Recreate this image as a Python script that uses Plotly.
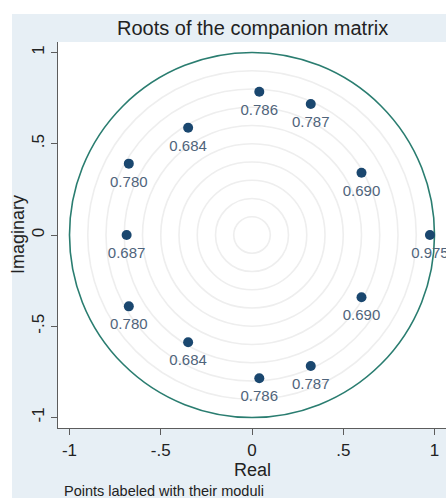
import numpy as np
import plotly.graph_objects as go

# Eigenvalues of the companion matrix (real and imaginary parts)
real_part = [0.040, 0.322, 0.600, 0.975, -0.350, -0.675, -0.687,
             -0.675, -0.350, 0.600, 0.322, 0.040]
imag_part = [0.785, 0.718, 0.341, 0.000, 0.588, 0.391, 0.000,
             -0.391, -0.588, -0.341, -0.718, -0.785]

# Reference circles
grid_radii = [0.1, 0.2, 0.3, 0.4, 0.5, 0.6, 0.7, 0.8, 0.9]
unit_radius = 1.0

# Axis ticks
tick_vals = [-1, -0.5, 0, 0.5, 1]
tick_text = ["-1", "-.5", "0", ".5", "1"]

re = np.array(real_part)
im = np.array(imag_part)
moduli = np.sqrt(re ** 2 + im ** 2)
labels = [f"{m:.3f}" for m in moduli]

W, H = 446, 498
ML, MR, MT, MB = 58, 0, 42, 70
scale = 182.5          # pixels per unit on both axes
cx, cy = 252, 235      # pixel location of the origin
x_range = [(ML - cx) / scale, (W - MR - cx) / scale]
y_range = [(cy - (H - MB)) / scale, (cy - MT) / scale]

plot_w = W - ML - MR
plot_h = H - MT - MB

BG = "#e7eff5"
FONT = "Arial, Liberation Sans, sans-serif"
AXIS_COLOR = "#5c5c5c"

fig = go.Figure()

# root markers
fig.add_trace(go.Scatter(
    x=re, y=im, mode="markers",
    marker=dict(color="#1a476f", size=10),
    cliponaxis=True, showlegend=False, hoverinfo="skip",
))
# modulus labels, set a little further below each root
fig.add_trace(go.Scatter(
    x=re, y=im, mode="markers+text",
    marker=dict(size=17, opacity=0),
    text=labels, textposition="bottom center",
    textfont=dict(family=FONT, size=15, color="#4f647b"),
    cliponaxis=True, showlegend=False, hoverinfo="skip",
))

shapes = []
# white margin strips outside the graph region
px2x = lambda px: (px - ML) / plot_w
py2y = lambda py: (H - MB - py) / plot_h
shapes.append(dict(type="rect", xref="paper", yref="paper",
                   x0=px2x(0), x1=px2x(12), y0=py2y(H), y1=py2y(0),
                   fillcolor="white", line_width=0, layer="below"))
shapes.append(dict(type="rect", xref="paper", yref="paper",
                   x0=px2x(0), x1=px2x(W), y0=py2y(14), y1=py2y(0),
                   fillcolor="white", line_width=0, layer="below"))
for r in grid_radii:
    shapes.append(dict(type="circle", xref="x", yref="y",
                       x0=-r, x1=r, y0=-r, y1=r,
                       line=dict(color="#eeeeee", width=1.6), layer="below"))
shapes.append(dict(type="circle", xref="x", yref="y",
                   x0=-unit_radius, x1=unit_radius,
                   y0=-unit_radius, y1=unit_radius,
                   line=dict(color="#2a7d70", width=1.6), layer="below"))

annotations = [
    dict(text="Real", xref="paper", yref="paper", x=px2x(252), y=py2y(470),
         showarrow=False, font=dict(family=FONT, size=18, color="#222222"),
         xanchor="center", yanchor="middle"),
    dict(text="Imaginary", xref="paper", yref="paper", x=px2x(18), y=py2y(235),
         showarrow=False, textangle=-90,
         font=dict(family=FONT, size=18, color="#222222"),
         xanchor="center", yanchor="middle"),
    dict(text="Points labeled with their moduli", xref="paper", yref="paper",
         x=px2x(62), y=py2y(491), showarrow=False,
         font=dict(family=FONT, size=14.5, color="#222222"),
         xanchor="left", yanchor="middle"),
    dict(text="Roots of the companion matrix", xref="paper", yref="paper",
         x=px2x(252), y=py2y(28), showarrow=False,
         font=dict(family=FONT, size=20, color="#222222"),
         xanchor="center", yanchor="middle"),
]

axis_common = dict(
    tickvals=tick_vals, ticktext=tick_text,
    showgrid=False, zeroline=False,
    showline=True, linecolor=AXIS_COLOR, linewidth=1.2,
    ticks="outside", ticklen=6, tickwidth=1.2, tickcolor=AXIS_COLOR,
    tickfont=dict(family=FONT, size=17, color="#222222"),
    fixedrange=True,
)

fig.update_layout(
    width=W, height=H,
    margin=dict(l=ML, r=MR, t=MT, b=MB, pad=0),
    paper_bgcolor=BG, plot_bgcolor="white",
    xaxis=dict(range=x_range, **axis_common),
    yaxis=dict(range=y_range, tickangle=-90, **axis_common),
    shapes=shapes, annotations=annotations,
    showlegend=False,
)

fig.write_html("out.html")
